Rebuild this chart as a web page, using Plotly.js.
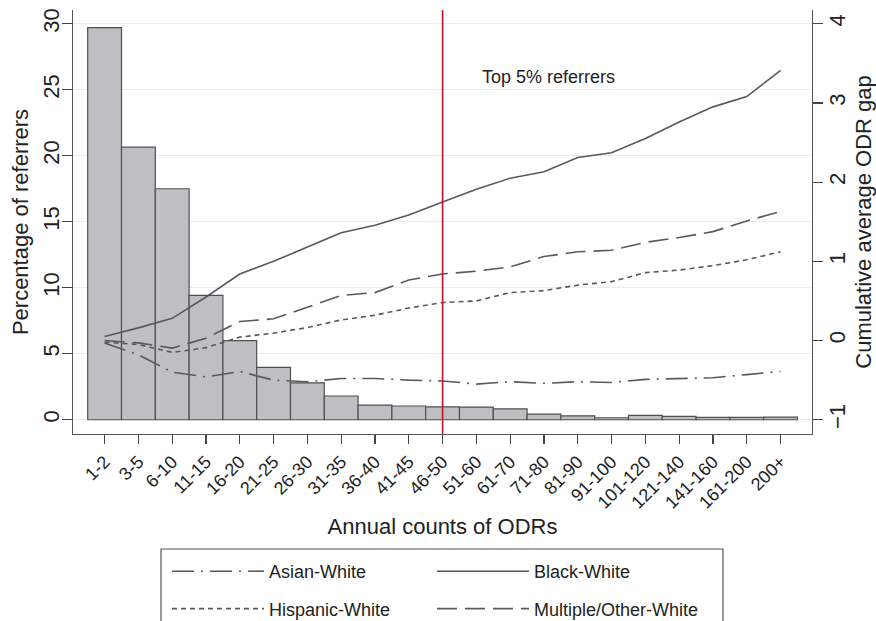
<!DOCTYPE html>
<html>
<head>
<meta charset="utf-8">
<script src="https://cdn.plot.ly/plotly-3.0.1.min.js"></script>
<style>html,body{margin:0;padding:0;background:#fff;}#chart{width:876px;height:621px;}</style>
</head>
<body>
<div id="chart"></div>
<script>
var categories = ["1-2","3-5","6-10","11-15","16-20","21-25","26-30","31-35","36-40","41-45","46-50","51-60","61-70","71-80","81-90","91-100","101-120","121-140","141-160","161-200","200+"];
var pctReferrers = [29.7,20.65,17.5,9.42,6.0,3.97,2.8,1.8,1.11,1.04,0.98,0.96,0.83,0.43,0.3,0.15,0.33,0.26,0.18,0.18,0.2];
var asianWhite = [-0.03,-0.18,-0.40,-0.46,-0.39,-0.50,-0.52,-0.48,-0.48,-0.50,-0.51,-0.55,-0.52,-0.54,-0.52,-0.53,-0.49,-0.48,-0.47,-0.43,-0.39];
var blackWhite = [0.05,0.16,0.28,0.55,0.84,1.0,1.18,1.36,1.455,1.585,1.75,1.91,2.05,2.13,2.31,2.37,2.55,2.76,2.95,3.08,3.41];
var hispanicWhite = [-0.02,-0.05,-0.15,-0.09,0.043,0.093,0.164,0.26,0.32,0.41,0.48,0.50,0.605,0.63,0.70,0.744,0.857,0.89,0.946,1.02,1.12];
var multipleWhite = [0.0,-0.03,-0.096,0.03,0.24,0.274,0.42,0.57,0.605,0.765,0.84,0.875,0.93,1.06,1.12,1.14,1.24,1.30,1.375,1.51,1.63];
var leftTicks = [0,5,10,15,20,25,30];
var rightTicks = [-1,0,1,2,3,4];
var markerCategory = "46-50";
var noteText = "Top 5% referrers";

var FONT = "Liberation Sans, Arial, Helvetica, sans-serif";
var lineColor = "#595959";

var traces = [
  {type:"bar", x:categories, y:pctReferrers, width:1, showlegend:false, hoverinfo:"skip",
   marker:{color:"#bebfc3", line:{color:"#505050", width:1.2}}},
  {type:"scatter", mode:"lines", name:"Asian-White", x:categories, y:asianWhite, yaxis:"y2",
   legend:"legend", legendgroup:"a",
   line:{color:lineColor, width:1.6, dash:"22px,7px,2px,7px"}},
  {type:"scatter", mode:"lines", name:"Black-White", x:categories, y:blackWhite, yaxis:"y2",
   legend:"legend2", legendgroup:"b",
   line:{color:lineColor, width:1.6}},
  {type:"scatter", mode:"lines", name:"Hispanic-White", x:categories, y:hispanicWhite, yaxis:"y2",
   legend:"legend", legendgroup:"h",
   line:{color:lineColor, width:1.6, dash:"5px,4px"}},
  {type:"scatter", mode:"lines", name:"Multiple/Other-White", x:categories, y:multipleWhite, yaxis:"y2",
   legend:"legend2", legendgroup:"m",
   line:{color:lineColor, width:1.6, dash:"20px,8px"}}
];

var markerIdx = categories.indexOf(markerCategory);

function pxToPaperX(p){ return (p - 73) / 739; }
function pxToPaperY(p){ return (434 - p) / 424; }

var legendCommon = {orientation:"v", xanchor:"left", yanchor:"top", borderwidth:0, bgcolor:"rgba(0,0,0,0)",
  itemwidth:92, tracegroupgap:11, traceorder:"grouped", font:{size:18, family:FONT, color:"#222"}};

var layout = {
  width:876, height:621,
  margin:{l:73, r:64, t:10, b:187, autoexpand:false},
  paper_bgcolor:"#fff", plot_bgcolor:"#fff",
  font:{family:FONT, color:"#222", size:18},
  bargap:0,
  xaxis:{type:"category", range:[-0.935,20.93], showline:true, linecolor:"#555", linewidth:1.2,
    ticks:"outside", ticklen:9, tickcolor:"#444", tickwidth:1.2, tickangle:-45,
    tickfont:{size:18, family:FONT, color:"#222"}, showgrid:false, zeroline:false,
    title:{text:"Annual counts of ODRs", font:{size:22, family:FONT, color:"#222"}, standoff:6}},
  yaxis:{range:[-1.08,31.04], tickvals:leftTicks, showline:true, linecolor:"#555", linewidth:1.2,
    ticks:"outside", ticklen:10, tickcolor:"#444", tickwidth:1.2, tickangle:-90, ticklabelstandoff:-6,
    tickfont:{size:22, family:FONT, color:"#222"}, showgrid:true, gridcolor:"#e6eef1", gridwidth:1.5, zeroline:false,
    title:{text:"Percentage of referrers", font:{size:22, family:FONT, color:"#222"}, standoff:4}},
  yaxis2:{overlaying:"y", side:"right", range:[-1.18,4.173], tickvals:rightTicks, showline:true, linecolor:"#555", linewidth:1.2,
    ticks:"outside", ticklen:10, tickcolor:"#444", tickwidth:1.2, tickangle:-90, ticklabelstandoff:-5,
    tickfont:{size:22, family:FONT, color:"#222"}, showgrid:false, zeroline:false,
    title:{text:"Cumulative average ODR gap", font:{size:22, family:FONT, color:"#222"}, standoff:9}},
  shapes:[
    {type:"line", xref:"x", yref:"paper", x0:markerIdx, x1:markerIdx, y0:0, y1:1,
     line:{color:"#c8102e", width:1.6}, layer:"above"},
    {type:"rect", xref:"paper", yref:"paper", x0:pxToPaperX(161), x1:pxToPaperX(723), y0:pxToPaperY(549), y1:pxToPaperY(640),
     line:{color:"#555", width:1.2}, fillcolor:"rgba(0,0,0,0)", layer:"below"}
  ],
  annotations:[{xref:"x", yref:"y", x:markerIdx+1.12, y:26.0, text:noteText, showarrow:false,
    xanchor:"left", yanchor:"middle", font:{size:18, family:FONT, color:"#222"}}],
  legend:Object.assign({}, legendCommon, {x:pxToPaperX(167), y:pxToPaperY(553)}),
  legend2:Object.assign({}, legendCommon, {x:pxToPaperX(432), y:pxToPaperY(553)})
};

Plotly.newPlot("chart", traces, layout, {displayModeBar:false, staticPlot:true});
</script>
</body>
</html>
